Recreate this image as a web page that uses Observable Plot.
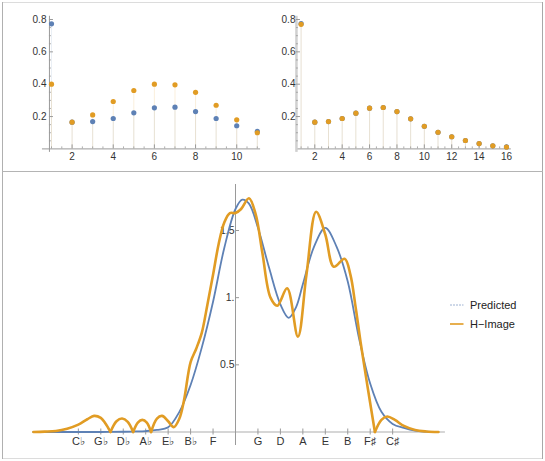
<!DOCTYPE html>
<html><head><meta charset="utf-8">
<script src="https://cdn.jsdelivr.net/npm/d3@7"></script>
<script src="https://cdn.jsdelivr.net/npm/@observablehq/plot@0.6"></script>
<style>
body{margin:0;background:#fff;}
#fig{position:relative;width:545px;height:461px;font-family:"Liberation Sans",Arial,sans-serif;overflow:hidden;}
#fig svg{position:absolute;background:transparent;overflow:visible;}
.fl{position:absolute;}
.leg{position:absolute;font-size:11px;color:#222;line-height:14px;white-space:nowrap;}
</style></head><body><div id="fig"></div>
<script>
// ---------- data ----------
const leftX = [1,2,3,4,5,6,7,8,9,10,11];
const leftBlue = [0.773,0.165,0.169,0.188,0.223,0.254,0.258,0.231,0.188,0.143,0.108];
const leftOrange = [0.400,0.165,0.210,0.293,0.361,0.400,0.396,0.350,0.270,0.180,0.100];

const rightX = [1,2,3,4,5,6,7,8,9,10,11,12,13,14,15,16];
const rightBlue = [0.774,0.165,0.169,0.188,0.221,0.252,0.256,0.231,0.186,0.140,0.103,0.075,0.052,0.033,0.019,0.012];
const rightOrange = [0.770,0.165,0.169,0.188,0.221,0.252,0.256,0.231,0.186,0.140,0.103,0.075,0.052,0.033,0.019,0.011];

const topYTicks = [0.2,0.4,0.6,0.8];
const topYLabels = ["0.2","0.4","0.6","0.8"];
const leftXTicks = [2,4,6,8,10];
const rightXTicks = [2,4,6,8,10,12,14,16];

// Bottom panel: position on the circle of fifths (C = 0)
const predX = [-9,-8,-7,-6,-5,-4.5,-4,-3.5,-3,-2.5,-2,-1.5,-1,-0.5,0,0.3,0.6,1,1.5,2,2.37,2.7,3,3.5,4,4.5,5,5.5,6,6.5,7,7.5,8,8.5,9];
const predV = [0,0,0,0,0.002,0.004,0.007,0.015,0.035,0.15,0.35,0.63,0.97,1.37,1.66,1.73,1.70,1.52,1.22,0.95,0.85,0.93,1.10,1.38,1.52,1.38,1.12,0.70,0.36,0.15,0.06,0.03,0.01,0.003,0];
const himgX = [-9,-8.5,-8,-7.5,-7,-6.6,-6.3,-6.0,-5.8,-5.57,-5.3,-5.05,-4.8,-4.56,-4.35,-4.15,-3.95,-3.76,-3.5,-3.27,-3.0,-2.75,-2.5,-2.3,-2.0,-1.75,-1.5,-1.25,-1.0,-0.75,-0.5,-0.25,0,0.25,0.6,0.9,1.2,1.56,1.86,2.3,2.78,3.16,3.59,4.0,4.38,4.86,5.12,5.35,5.57,5.87,6.21,6.5,6.76,7.1,7.5,8.0,8.5,9.04];
const himgV = [0,0.003,0.008,0.025,0.055,0.095,0.12,0.105,0.065,0,0.08,0.10,0.075,0,0.07,0.09,0.07,0,0.10,0.12,0.08,0.036,0.10,0.23,0.52,0.62,0.74,0.95,1.17,1.40,1.56,1.63,1.63,1.66,1.74,1.62,1.33,1.00,0.94,1.07,0.71,1.17,1.64,1.47,1.23,1.29,1.17,0.93,0.67,0.35,0,0.09,0.115,0.09,0.045,0.015,0.004,0];
const notePos = [-7,-6,-5,-4,-3,-2,-1,1,2,3,4,5,6,7];
const noteLabels = ["C♭","G♭","D♭","A♭","E♭","B♭","F","G","D","A","E","B","F♯","C♯"];
const botYTicks = [0.5,1,1.5];
const botYLabels = ["0.5","1.","1.5"];
const seriesNames = ["Predicted","H\u2212Image"];

// ---------- style ----------
const blueC = "#5E81B5", orangeC = "#E19C24", axisC = "#9a9a9a", textC = "#333";
const fig = document.getElementById("fig");

function frameLine(l,t,w,h,c){const d=document.createElement("div");d.className="fl";
  Object.assign(d.style,{left:l+"px",top:t+"px",width:w+"px",height:h+"px",background:c});fig.appendChild(d);}
frameLine(2,2,541,1,"#dcdcdc");
frameLine(2,458,541,1,"#dcdcdc");
frameLine(2,2,1,457,"#b0b0b0");
frameLine(542,2,1,457,"#a8a8a8");
frameLine(2,171,541,1,"#b4b4b4");

function stemPanel(o){
  const yRange=[148.4,19];
  const pxX=(o.xRange[1]-o.xRange[0])/(o.xs[o.xs.length-1]-o.xs[0]);
  const pxY=(yRange[0]-yRange[1])/0.8;
  const b=o.xs.map((x,i)=>({x,v:o.blue[i]}));
  const r=o.xs.map((x,i)=>({x,v:o.orange[i]}));
  const xMinor=d3.range(1,o.xs[o.xs.length-1]+0.01,0.5).filter(t=>!o.xTicks.includes(t));
  const yMinor=d3.range(1,17).map(i=>+(i*0.05).toFixed(2)).filter(t=>!topYTicks.includes(t));
  const svg=Plot.plot({
    width:o.width,height:170,margin:0,
    x:{domain:[o.xs[0],o.xs[o.xs.length-1]],range:o.xRange,axis:null},
    y:{domain:[0,0.8],range:yRange,axis:null},
    style:{fontFamily:"Liberation Sans, Arial, sans-serif",fontSize:"10px",background:"transparent",overflow:"visible"},
    marks:[
      Plot.ruleX(b,{x:"x",y1:0,y2:"v",stroke:blueC,strokeOpacity:0.13,strokeWidth:1}),
      Plot.ruleX(r,{x:"x",y1:0,y2:"v",stroke:orangeC,strokeOpacity:0.16,strokeWidth:1}),
      Plot.ruleY([0],{x1:o.axisExt[0],x2:o.axisExt[1],stroke:axisC,strokeWidth:1}),
      Plot.ruleX([o.origin],{y1:-3.5/pxY,y2:0.82,stroke:o.yAxisC||axisC,strokeWidth:o.yAxisW||1}),
      Plot.ruleX(o.xTicks,{x:d=>d,y1:0,y2:4/pxY,stroke:axisC}),
      Plot.ruleX(xMinor,{x:d=>d,y1:0,y2:2/pxY,stroke:axisC,strokeOpacity:0.8}),
      Plot.ruleY(topYTicks,{y:d=>d,x1:o.origin,x2:o.origin+4/pxX,stroke:axisC}),
      Plot.ruleY(yMinor,{y:d=>d,x1:o.origin,x2:o.origin+2/pxX,stroke:axisC,strokeOpacity:0.8}),
      Plot.text(topYTicks,{x:o.origin,y:d=>d,text:(d,i)=>topYLabels[i],textAnchor:"end",dx:o.labelDx,fill:textC}),
      Plot.text(o.xTicks,{x:d=>d,y:0,text:d=>String(d),dy:8,fill:textC}),
      Plot.dot(b,{x:"x",y:"v",r:2.6,fill:blueC}),
      Plot.dot(r,{x:"x",y:"v",r:2.6,fill:orangeC})
    ]
  });
  svg.style.left=o.left+"px";svg.style.top="0px";
  fig.appendChild(svg);
}

stemPanel({left:0,width:272,xs:leftX,blue:leftBlue,orange:leftOrange,xRange:[51,256.8],
  axisExt:[0.56,11.16],origin:0.9,xTicks:leftXTicks,labelDx:-3});
stemPanel({left:272,width:273,xs:rightX,blue:rightBlue,orange:rightOrange,xRange:[28.6,234],
  axisExt:[0.66,16.35],origin:0.66,xTicks:rightXTicks,labelDx:-1,yAxisC:"#d0d0d0",yAxisW:2.5});

// bottom panel
(function(){
  const yRange=[259.5,58.0];
  const pxY=(yRange[0]-yRange[1])/1.5;
  const xRange=[77.85,392.15];
  const pxX=(xRange[1]-xRange[0])/14;
  const pred=predX.map((x,i)=>({x,v:predV[i]}));
  const him=[];let seg=0;
  himgX.forEach((x,i)=>{
    him.push({x,v:himgV[i],seg});
    if(himgV[i]===0&&i>0&&i<himgX.length-1&&himgV[i-1]>0){seg++;him.push({x,v:0,seg});}
  });
  const svg=Plot.plot({
    width:545,height:287,margin:0,
    x:{domain:[-7,7],range:xRange,axis:null},
    y:{domain:[0,1.5],range:yRange,axis:null},
    style:{fontFamily:"Liberation Sans, Arial, sans-serif",fontSize:"11px",background:"transparent",overflow:"visible"},
    marks:[
      Plot.ruleY([0],{x1:-9.04,x2:9.35,stroke:"#d6d6d6",strokeWidth:2}),
      Plot.ruleX([0],{y1:-13.5/pxY,y2:(yRange[0]-12)/pxY,stroke:axisC,strokeWidth:1}),
      Plot.ruleX(notePos,{x:d=>d,y1:-3/pxY,y2:3/pxY,stroke:axisC}),
      Plot.ruleY(botYTicks,{y:d=>d,x1:0,x2:4/pxX,stroke:axisC}),
      Plot.text(botYTicks,{x:0,y:d=>d,text:(d,i)=>botYLabels[i],textAnchor:"end",dx:-1,fill:textC,fontSize:10.5}),
      Plot.text(notePos,{x:d=>d,y:0,text:(d,i)=>noteLabels[i],dy:9,fill:textC}),
      Plot.line(pred,{x:"x",y:"v",stroke:blueC,strokeWidth:1.8,curve:"catmull-rom"}),
      Plot.line(him,{x:"x",y:"v",z:"seg",stroke:orangeC,strokeWidth:2.6,curve:"catmull-rom",strokeLinecap:"round"})
    ]
  });
  svg.style.left="0px";svg.style.top="172px";
  fig.appendChild(svg);
})();

// legend
[[blueC,"2,1",1,0.6],[orangeC,null,1.6,1]].forEach(([c,dash,w,op],i)=>{
  const y=[304.7,324][i];
  const d=document.createElement("div");d.className="leg";
  d.style.left="450px";d.style.top=(y-7)+"px";
  d.innerHTML=`<svg width="14" height="14" style="position:static;vertical-align:top"><line x1="0" y1="7" x2="13.5" y2="7" stroke="${c}" stroke-width="${w}" stroke-opacity="${op}" ${dash?`stroke-dasharray="${dash}"`:""}/></svg><span style="position:absolute;left:20px;top:0">${seriesNames[i]}</span>`;
  fig.appendChild(d);
});
</script></body></html>
